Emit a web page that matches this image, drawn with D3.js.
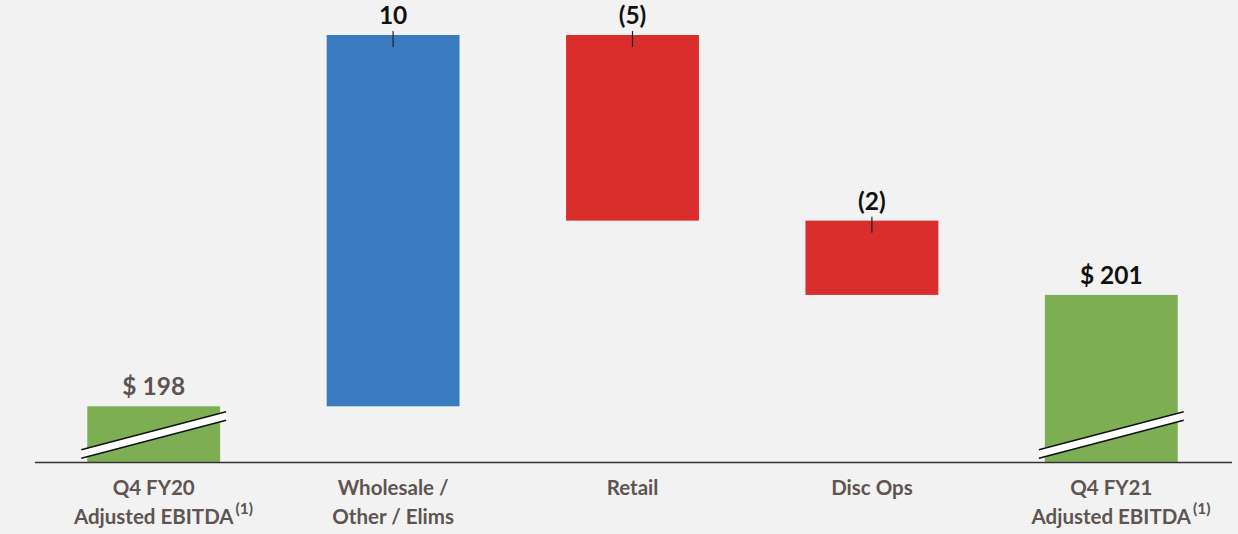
<!DOCTYPE html>
<html>
<head>
<meta charset="utf-8">
<script src="https://cdn.jsdelivr.net/npm/d3@7"></script>
<style>
  body { margin: 0; background: #f2f2f2; }
  svg { display: block; font-family: Lato, "Open Sans", sans-serif; }
</style>
</head>
<body>
<svg></svg>
<script>
var width = 1238
var height = 534

// chart data
var categories = ["Q4 FY20", "Wholesale", "Retail", "Disc Ops", "Q4 FY21"]
var catLines = [["Q4 FY20", "Adjusted EBITDA"], ["Wholesale /", "Other / Elims"], ["Retail"], ["Disc Ops"], ["Q4 FY21", "Adjusted EBITDA"]]
var footnotes = ["(1)", "", "", "", "(1)"]
var values = [198, 10, -5, -2, 201]
var kinds = ["total", "delta", "delta", "delta", "total"]
var valueLabels = ["$ 198", "10", "(5)", "(2)", "$ 201"]
var axisFloor = 196.5   // broken axis, bars start here

var colors = {total: "#7dae53", up: "#3a7bbf", down: "#d92e2b"}

// running waterfall
var run = 0
var bars = values.map((v, i) => {
  var d = {cat: categories[i], kind: kinds[i], label: valueLabels[i], lines: catLines[i], note: footnotes[i]}
  if (kinds[i] == "total") {
    d.y0 = axisFloor; d.y1 = v; run = v
  } else {
    d.y0 = run; d.y1 = run + v; run = run + v
  }
  d.hi = Math.max(d.y0, d.y1)
  d.lo = Math.min(d.y0, d.y1)
  return d
})

var svg = d3.select("svg")
  .attr("width", width)
  .attr("height", height)

var x = d3.scaleBand()
  .domain(categories)
  .range([34, 1231])
  .paddingInner(0.445)
  .paddingOuter(0.2225)

var y = d3.scaleLinear()
  .domain([axisFloor, 208])
  .range([462, 35])

var g = svg.append("g")

g.selectAll("rect.bar")
  .data(bars)
  .enter()
  .append("rect")
    .attr("class", "bar")
    .attr("x", d => x(d.cat))
    .attr("width", x.bandwidth())
    .attr("y", d => y(d.hi))
    .attr("height", d => y(d.lo) - y(d.hi))
    .attr("fill", d => d.kind == "total" ? colors.total : (d.y1 > d.y0 ? colors.up : colors.down))

// baseline
svg.append("line")
  .attr("x1", 35).attr("x2", 1232)
  .attr("y1", y(axisFloor) + 0.5).attr("y2", y(axisFloor) + 0.5)
  .attr("stroke", "#333").attr("stroke-width", 1.6)

// axis break symbols on the total bars
var totals = bars.filter(d => d.kind == "total")
var base = y(axisFloor)
totals.forEach(d => {
  var xl = x(d.cat) - 6, xr = x(d.cat) + x.bandwidth() + 6
  var yl = base - 8, yr = base - 46, t = 8.5
  var brk = svg.append("g")
  brk.append("path")
    .attr("d", `M${xl},${yl - t/2}L${xr},${yr - t/2}L${xr},${yr + t/2}L${xl},${yl + t/2}Z`)
    .attr("fill", "#fff")
  brk.append("line").attr("x1", xl).attr("y1", yl - t/2).attr("x2", xr).attr("y2", yr - t/2)
    .attr("stroke", "#111").attr("stroke-width", 1.4)
  brk.append("line").attr("x1", xl).attr("y1", yl + t/2).attr("x2", xr).attr("y2", yr + t/2)
    .attr("stroke", "#111").attr("stroke-width", 1.4)
})

// little tick marks on the change bars
g.selectAll("line.tick")
  .data(bars.filter(d => d.kind == "delta"))
  .enter()
  .append("line")
    .attr("x1", d => x(d.cat) + x.bandwidth() / 2)
    .attr("x2", d => x(d.cat) + x.bandwidth() / 2)
    .attr("y1", d => y(d.hi) - 4)
    .attr("y2", d => y(d.hi) + 12)
    .attr("stroke", "#222").attr("stroke-width", 1.2)

// value labels
g.selectAll("text.val")
  .data(bars)
  .enter()
  .append("text")
    .attr("x", d => x(d.cat) + x.bandwidth() / 2)
    .attr("y", d => y(d.hi) - 11)
    .attr("text-anchor", "middle")
    .attr("font-size", 24.5)
    .attr("font-weight", "bold")
    .attr("fill", (d, i) => i == 0 ? "#5e5451" : "#111")
    .text(d => d.label)

// category labels
var cl = g.selectAll("g.cat")
  .data(bars)
  .enter()
  .append("g")
    .attr("transform", d => `translate(${x(d.cat) + x.bandwidth() / 2},0)`)

cl.each(function(d) {
  var el = d3.select(this)
  d.lines.forEach((ln, j) => {
    el.append("text")
      .attr("y", 495 + j * 29)
      .attr("text-anchor", "middle")
      .attr("font-size", 20.5)
      .attr("font-weight", "bold")
      .attr("fill", "#5e5451")
      .text(ln)
  })
  if (d.note) {
    var last = el.selectAll("text").nodes().pop()
    var w = last.getComputedTextLength()
    el.append("text")
      .attr("x", w / 2 + 2)
      .attr("y", 514)
      .attr("font-size", 15.5)
      .attr("font-weight", "bold")
      .attr("fill", "#5e5451")
      .text(d.note)
  }
})
</script>
</body>
</html>
